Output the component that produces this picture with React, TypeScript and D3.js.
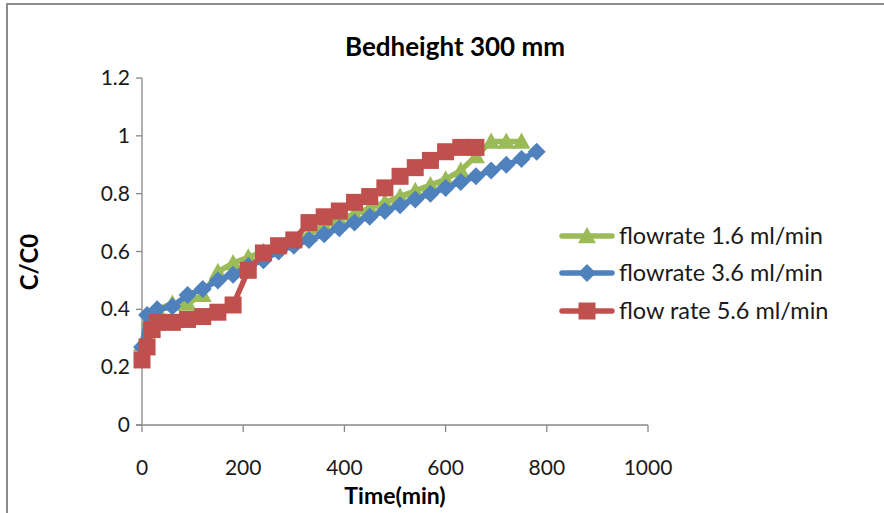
import React from "react";
import * as d3 from "d3";

const W = 884;
const H = 513;

const xTicks = [0, 200, 400, 600, 800, 1000];
const yTicks = [0, 0.2, 0.4, 0.6, 0.8, 1, 1.2];

const greenT = [0, 15, 30, 60, 90, 120, 150, 180, 210, 240, 270, 300, 330, 360, 390, 420, 450, 480, 510, 540, 570, 600, 630, 660, 690, 720, 750];
const greenV = [0.28, 0.37, 0.4, 0.42, 0.42, 0.45, 0.53, 0.56, 0.58, 0.6, 0.62, 0.64, 0.66, 0.69, 0.71, 0.73, 0.75, 0.77, 0.79, 0.81, 0.83, 0.85, 0.88, 0.93, 0.98, 0.98, 0.98];

const blueT = [0, 10, 30, 60, 90, 120, 150, 180, 210, 240, 270, 300, 330, 360, 390, 420, 450, 480, 510, 540, 570, 600, 630, 660, 690, 720, 750, 780];
const blueV = [0.27, 0.38, 0.4, 0.41, 0.45, 0.47, 0.5, 0.52, 0.55, 0.57, 0.6, 0.62, 0.64, 0.66, 0.68, 0.7, 0.72, 0.74, 0.76, 0.78, 0.8, 0.82, 0.84, 0.86, 0.88, 0.9, 0.92, 0.945];

const redT = [0, 10, 20, 30, 60, 90, 120, 150, 180, 210, 240, 270, 300, 330, 360, 390, 420, 450, 480, 510, 540, 570, 600, 630, 660];
const redV = [0.225, 0.27, 0.33, 0.355, 0.355, 0.365, 0.375, 0.39, 0.415, 0.535, 0.595, 0.62, 0.64, 0.7, 0.72, 0.74, 0.77, 0.79, 0.82, 0.86, 0.89, 0.915, 0.945, 0.96, 0.96];

const seriesNames = ["flowrate 1.6 ml/min", "flowrate 3.6 ml/min", "flow rate 5.6 ml/min"];
const colors = ["#9BBB59", "#4F81BD", "#C0504D"];

const FONT = "Lato, 'Open Sans', sans-serif";

const x = d3.scaleLinear().domain([0, 1000]).range([142, 648]);
const y = d3.scaleLinear().domain([0, 1.2]).range([425, 78]);

function Marker({ kind, cx, cy, color }: { kind: string; cx: number; cy: number; color: string }) {
  if (kind === "tri") {
    const s = 9;
    return <path d={`M${cx},${cy - s} L${cx + s},${cy + s * 0.8} L${cx - s},${cy + s * 0.8} Z`} fill={color} />;
  }
  if (kind === "dia") {
    const s = 9;
    return <path d={`M${cx},${cy - s} L${cx + s},${cy} L${cx},${cy + s} L${cx - s},${cy} Z`} fill={color} />;
  }
  const s = 8.5;
  return <rect x={cx - s} y={cy - s} width={2 * s} height={2 * s} fill={color} />;
}

export default function App() {
  const series = [
    { t: greenT, v: greenV, kind: "tri" },
    { t: blueT, v: blueV, kind: "dia" },
    { t: redT, v: redV, kind: "sq" },
  ];
  const line = d3
    .line<[number, number]>()
    .x((d) => x(d[0]))
    .y((d) => y(d[1]));

  const legendY = [236, 273, 311];

  return (
    <svg width={W} height={H} style={{ position: "absolute", left: 0, top: 0 }}>
      <rect x={0} y={0} width={W} height={H} fill="#fff" />
      <path d={`M7,${H + 5} L7,4 L${W + 5},4`} fill="none" stroke="#8c8c8c" strokeWidth={2} />
      <text x={455} y={56} textAnchor="middle" fontFamily={FONT} fontWeight="bold" fontSize={26}>
        Bedheight 300 mm
      </text>
      {/* axes */}
      <line x1={x(0)} x2={x(0)} y1={y(1.2)} y2={y(0)} stroke="#888" strokeWidth={1.3} />
      <line x1={x(0) - 6} x2={x(1000)} y1={y(0)} y2={y(0)} stroke="#888" strokeWidth={1.3} />
      {yTicks.map((t) => (
        <g key={"y" + t}>
          <line x1={x(0) - 6} x2={x(0)} y1={y(t)} y2={y(t)} stroke="#888" strokeWidth={1.3} />
          <text x={x(0) - 12} y={y(t) + 7} textAnchor="end" fontFamily={FONT} fontSize={21} fill="#1a1a1a">
            {String(t)}
          </text>
        </g>
      ))}
      {xTicks.map((t) => (
        <g key={"x" + t}>
          <line x1={x(t)} x2={x(t)} y1={y(0)} y2={y(0) + 7} stroke="#888" strokeWidth={1.3} />
          <text x={x(t)} y={475} textAnchor="middle" fontFamily={FONT} fontSize={21} fill="#1a1a1a">
            {String(t)}
          </text>
        </g>
      ))}
      <text x={395} y={504} textAnchor="middle" fontFamily={FONT} fontWeight="bold" fontSize={23}>
        Time(min)
      </text>
      <text
        transform={`translate(38,262) rotate(-90)`}
        textAnchor="middle"
        fontFamily={FONT}
        fontWeight="bold"
        fontSize={24}
      >
        C/C0
      </text>
      {series.map((s, i) => {
        const pts: [number, number][] = s.t.map((t, j) => [t, s.v[j]]);
        return (
          <g key={"s" + i}>
            <path d={line(pts) || ""} fill="none" stroke={colors[i]} strokeWidth={5.5} strokeLinejoin="round" />
            {pts.map((p, j) => (
              <Marker key={j} kind={s.kind} cx={x(p[0])} cy={y(p[1])} color={colors[i]} />
            ))}
          </g>
        );
      })}
      {/* legend */}
      {series.map((s, i) => (
        <g key={"l" + i}>
          <line x1={562} x2={612} y1={legendY[i]} y2={legendY[i]} stroke={colors[i]} strokeWidth={5.5} strokeLinecap="round" />
          <Marker kind={s.kind} cx={587} cy={legendY[i]} color={colors[i]} />
          <text x={619} y={legendY[i] + 8} fontFamily={FONT} fontSize={23.5} fill="#1a1a1a">
            {seriesNames[i]}
          </text>
        </g>
      ))}
    </svg>
  );
}
